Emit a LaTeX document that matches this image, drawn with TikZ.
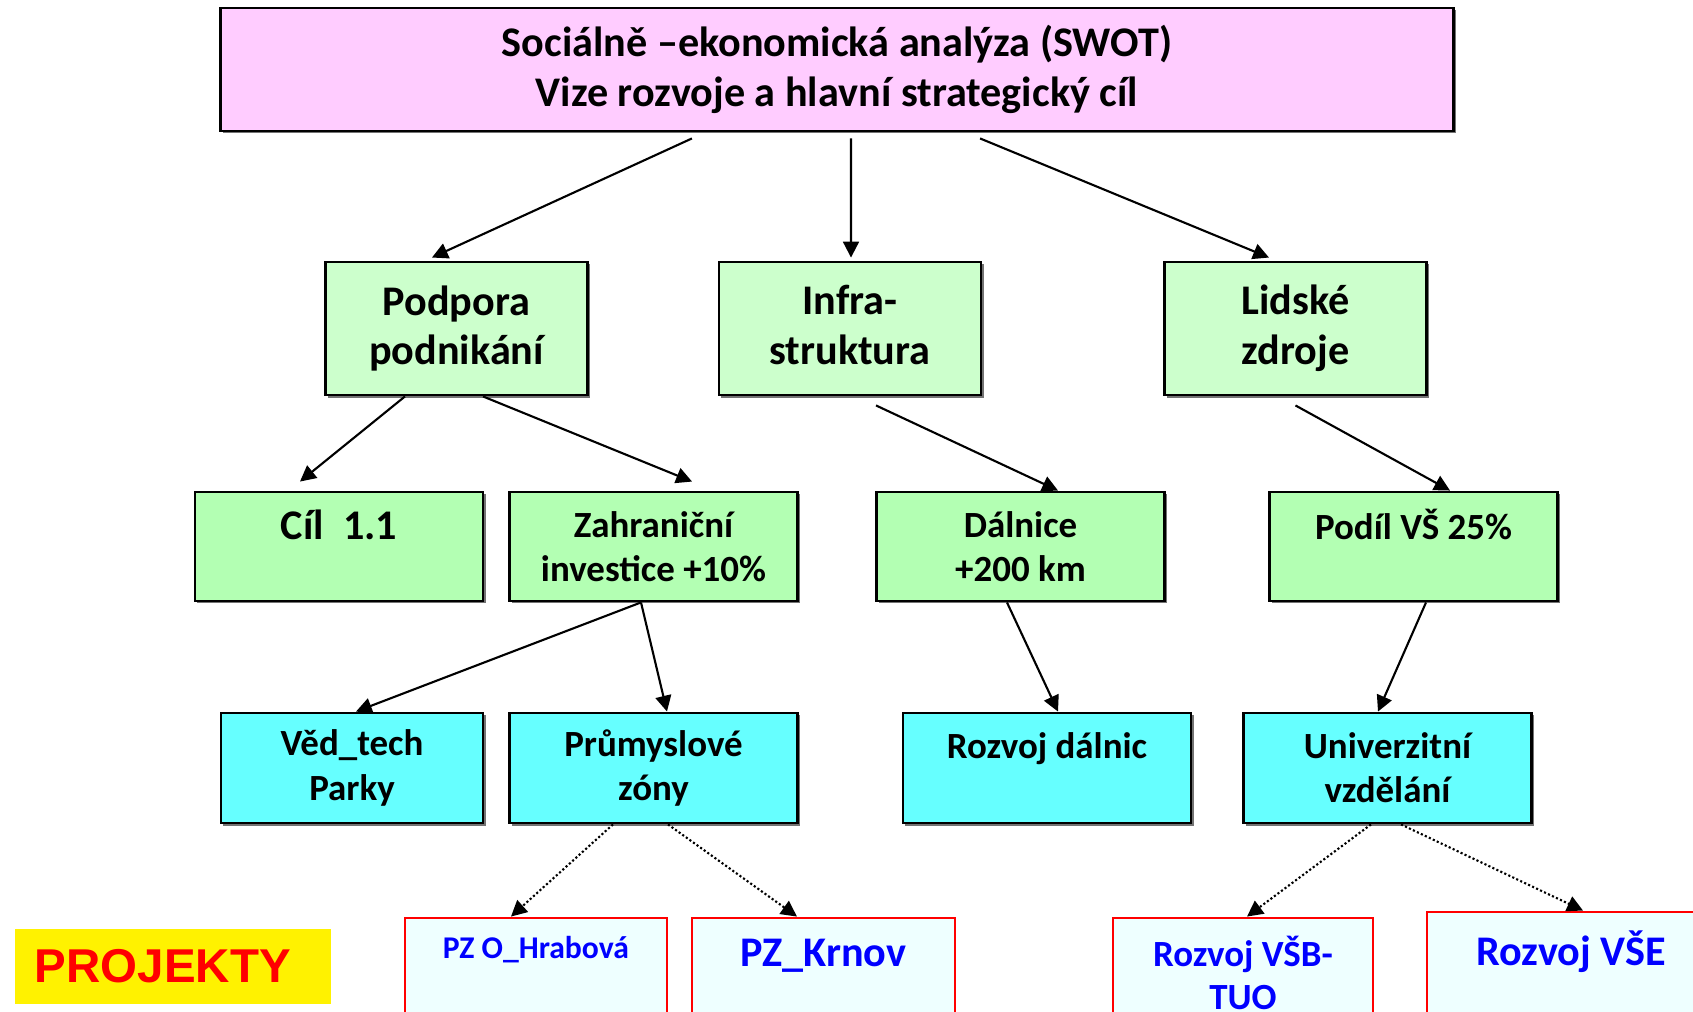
\documentclass[tikz,border=0pt]{standalone}
\usepackage{fontspec}
\setmainfont{Carlito}
\newfontfamily\arialfont{Liberation Sans}
\usetikzlibrary{arrows.meta,shadows}

\definecolor{vizepink}{HTML}{FFCCFF}
\definecolor{palegreen}{HTML}{CCFFCC}
\definecolor{cilgreen}{HTML}{B3FFB3}
\definecolor{aqua}{HTML}{66FFFF}
\definecolor{paleaqua}{HTML}{EEFFFF}

\begin{document}
\begin{tikzpicture}[x=0.01cm, y=-0.01cm,
    box/.style={draw, line width=0.8pt, inner sep=0, align=center,
        drop shadow={shadow xshift=0.7pt, shadow yshift=-0.7pt, fill=black!55, opacity=1}},
    vize/.style={box, fill=vizepink, minimum width=12.32cm, minimum height=1.23cm,
        font=\fontsize{12}{14.4}\selectfont\bfseries},
    prio/.style={box, fill=palegreen, minimum width=2.62cm, minimum height=1.33cm,
        font=\fontsize{12}{14.1}\selectfont\bfseries},
    cil/.style={box, fill=cilgreen, minimum width=2.88cm, minimum height=1.09cm,
        font=\fontsize{10.5}{12.6}\selectfont\bfseries},
    opatreni/.style={box, fill=aqua, minimum width=2.88cm, minimum height=1.10cm,
        font=\fontsize{10.5}{12.6}\selectfont\bfseries},
    projekt/.style={draw=red, line width=0.8pt, fill=paleaqua, inner sep=0, align=center,
        text=blue, minimum width=2.62cm, minimum height=1.10cm,
        font=\fontsize{10.5}{12.3}\selectfont\bfseries},
    arr/.style={line width=0.6pt, -{Triangle[length=4.5pt, width=4.5pt]}},
    dotarr/.style={arr, dash pattern=on 0.6pt off 0.65pt}]

    \path[use as bounding box, fill=white] (0, 0) rectangle (1693, 1012);

    % Vision
    \node[vize] (vize) at (837, 69.5)
    {Sociálně –ekonomická analýza (SWOT)\\Vize rozvoje a hlavní strategický cíl};

    % Priorities
    \node[prio] (podpora) at (456.5, 328.5) {Podpora\\podnikání};
    \node[prio] (infra) at (850, 328.5) {Infra-\\struktura\vphantom{g}};
    \node[prio] (lidske) at (1295.5, 328.5) {Lidské\\zdroje};

    % Goals
    \node[cil, font=\fontsize{12}{14.6}\selectfont\bfseries] (cil) at (339, 546.5)
    {Cíl\ \ 1.1\\[-2pt]\mbox{}};
    \node[cil] (zahranicni) at (653.5, 546.5) {Zahraniční\\investice +10\%};
    \node[cil] (dalnice) at (1020.5, 546.5) {Dálnice\\+200 km};
    \node[cil] (podil) at (1413.5, 546.5) {Podíl VŠ 25\%\\\mbox{}};

    % Measures
    \node[opatreni, minimum width=2.62cm] (vedtech) at (352, 768) {Věd\_tech\\Parky};
    \node[opatreni] (zony) at (653.5, 768) {Průmyslové\\zóny};
    \node[opatreni] (rozvojd) at (1047, 768) {Rozvoj dálnic\\\mbox{}};
    \node[opatreni] (univerzita) at (1387.5, 768) {Univerzitní\\vzdělání};

    % Projects
    \node[fill=yellow, text=red, inner ysep=0, inner xsep=0.2cm, minimum height=0.75cm,
    text width=2.76cm, align=left, font=\arialfont\fontsize{13.5}{16}\selectfont\bfseries]
    (projekty) at (173, 966.5) {PROJEKTY};
    \node[projekt, font=\fontsize{9}{11}\selectfont\bfseries] (hrabova) at (536, 973)
    {PZ O\_Hrabová\\[3.8pt]\mbox{}};
    \node[projekt, minimum width=2.63cm, font=\fontsize{12}{14.6}\selectfont\bfseries]
    (krnov) at (823.5, 973) {PZ\_Krnov\\[-3pt]\mbox{}};
    \node[projekt, minimum width=2.60cm] (vsb) at (1243, 973) {Rozvoj VŠB-\\TUO};
    \node[projekt, minimum width=2.88cm, font=\fontsize{12}{14.6}\selectfont\bfseries]
    (vse) at (1571, 967) {Rozvoj VŠE\\[-4pt]\mbox{}};

    % Links
    \draw[arr] ([xshift=-1.45cm, yshift=-0.06cm]vize.south)
    -- ([xshift=-0.245cm, yshift=0.03cm]podpora.north);
    \draw[arr] ([xshift=0.14cm, yshift=-0.06cm]vize.south)
    -- ([xshift=0.01cm, yshift=0.03cm]infra.north);
    \draw[arr] ([xshift=1.43cm, yshift=-0.06cm]vize.south)
    -- ([xshift=-0.265cm, yshift=0.03cm]lidske.north);

    \draw[arr] ([xshift=-0.515cm]podpora.south) -- ([xshift=-0.39cm, yshift=0.09cm]cil.north);
    \draw[arr] ([xshift=0.265cm]podpora.south) -- ([xshift=0.385cm, yshift=0.09cm]zahranicni.north);
    \draw[arr] ([xshift=0.26cm, yshift=-0.09cm]infra.south) -- ([xshift=0.375cm]dalnice.north);
    \draw[arr] ([yshift=-0.09cm]lidske.south) -- ([xshift=0.365cm]podil.north);

    \draw[arr] ([xshift=-0.125cm]zahranicni.south) -- ([xshift=0.04cm]vedtech.north);
    \draw[arr] ([xshift=-0.125cm]zahranicni.south) -- ([xshift=0.135cm]zony.north);
    \draw[arr] ([xshift=-0.135cm]dalnice.south) -- ([xshift=0.11cm]rozvojd.north);
    \draw[arr] ([xshift=0.125cm]podil.south) -- ([xshift=-0.095cm]univerzita.north);

    \draw[dotarr] ([xshift=-0.405cm]zony.south) -- ([xshift=-0.25cm]hrabova.north);
    \draw[dotarr] ([xshift=0.145cm]zony.south) -- ([xshift=-0.265cm]krnov.north);
    \draw[dotarr] ([xshift=-0.165cm]univerzita.south) -- ([xshift=0.04cm]vsb.north);
    \draw[dotarr] ([xshift=0.135cm]univerzita.south) -- ([xshift=0.12cm]vse.north);

\end{tikzpicture}
\end{document}
